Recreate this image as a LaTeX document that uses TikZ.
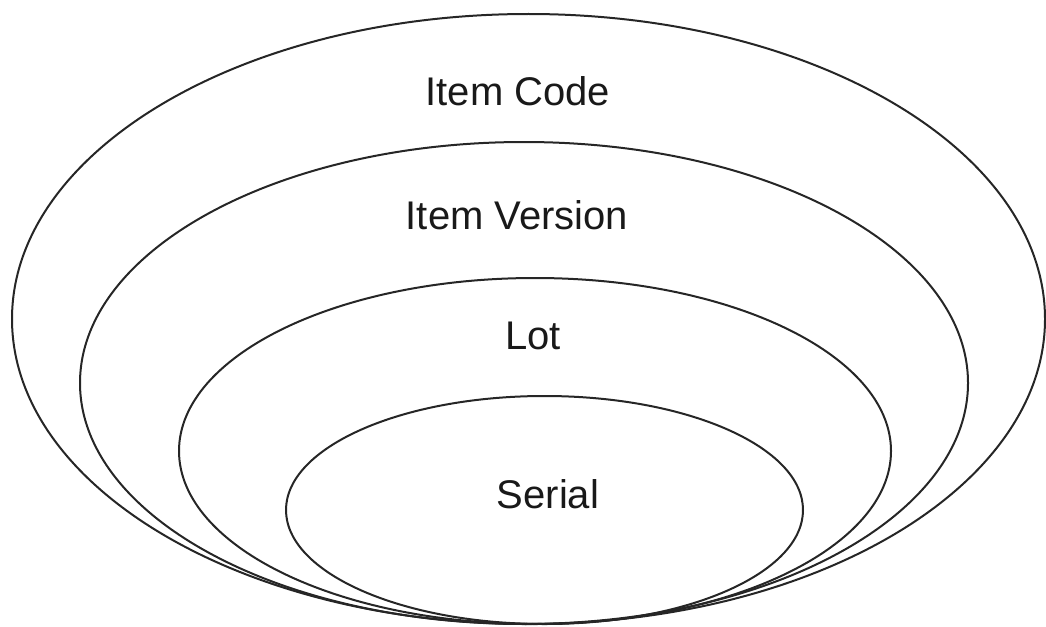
\documentclass[tikz,border=0pt]{standalone}
\usepackage{fontspec}
\setmainfont{Liberation Sans}
\usetikzlibrary{shapes.geometric}
\tikzset{
  ring/.style={ellipse, draw=black!85, line width=2pt, inner sep=0pt},
  lbl/.style={font=\fontsize{40}{42}\selectfont, text=black!90, inner sep=0pt}
}
\begin{document}
\begin{tikzpicture}[x=1pt, y=-1pt]
  \useasboundingbox (0,0) rectangle (1046,626);
  % nested levels, all resting on a common bottom point
  \node[ring, minimum width=1033pt, minimum height=610pt] (code) at (528.5,319) {};
  \node[ring, minimum width=888pt, minimum height=482pt] (version) at (524,383) {};
  \node[ring, minimum width=712pt, minimum height=346pt] (lot) at (535,451) {};
  \node[ring, minimum width=517pt, minimum height=228pt] (serial) at (544.5,510) {};
  % level names
  \node[lbl] (codetxt) at (518,91) {Item Code};
  \node[lbl] (versiontxt) at (517,215) {Item Version};
  \node[lbl] (lottxt) at (533,336) {Lot};
  \node[lbl] (serialtxt) at (548,494) {Serial};
\end{tikzpicture}
\end{document}
